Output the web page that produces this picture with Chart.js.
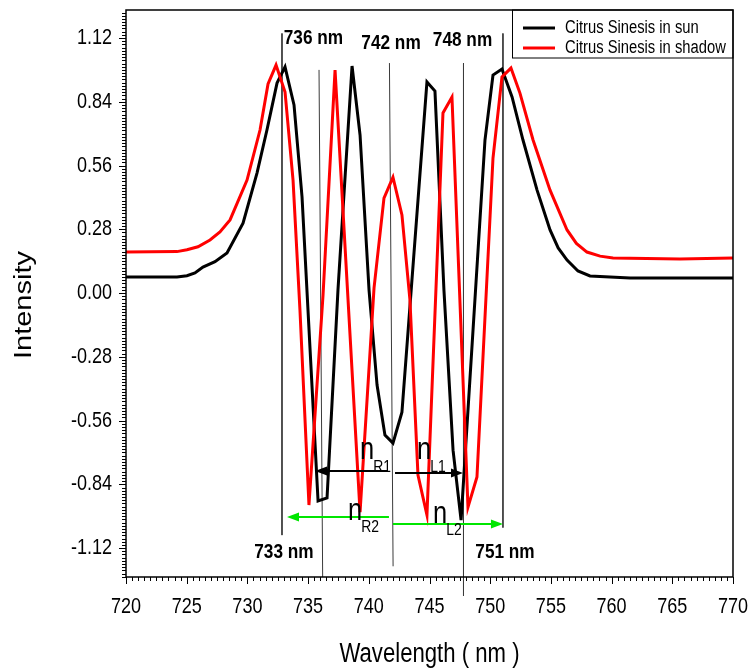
<!DOCTYPE html>
<html>
<head>
<meta charset="utf-8">
<script src="https://cdn.jsdelivr.net/npm/chart.js@4.4.1/dist/chart.umd.min.js"></script>
<style>
  html, body { margin: 0; padding: 0; background: #fff; }
</style>
</head>
<body>
<canvas id="chart" width="751" height="671"></canvas>
<script>
const FONT = "'Liberation Sans', Arial, sans-serif";
const SQUEEZE = 0.82; // the original export is horizontally condensed

// Citrus Sinesis in sun (black)
const sunWavelength = [720, 724.2, 725.02, 725.68, 726.34, 727.33, 728.32, 729.64, 730.79, 731.61, 732.44, 733.1, 733.84, 734.5,
  735.82, 736.56, 737.46, 738.62, 739.28, 740.02, 740.68, 741.33, 741.99, 742.73, 744.79, 745.45,
  746.19, 746.94, 747.6, 749.57, 750.23, 750.97, 751.8, 752.7, 753.86, 754.93, 755.6, 756.33, 757.23, 758.22, 761.52, 770];
const sunIntensity = [0.07, 0.071, 0.076, 0.088, 0.114, 0.138, 0.176, 0.307, 0.527, 0.716, 0.922, 0.993, 0.826, 0.422,
  -0.913, -0.9, 0.013, 0.997, 0.694, 0.013, -0.404, -0.624, -0.659, -0.523, 0.927, 0.887,
  0.013, -0.69, -0.997, 0.672, 0.957, 0.984, 0.861, 0.672, 0.452, 0.277, 0.198, 0.145, 0.097, 0.075, 0.066, 0.066];

// Citrus Sinesis in shadow (red)
const shadowWavelength = [720, 724.2, 725.02, 725.93, 726.92, 727.74, 728.57, 729.97, 731.04, 731.7, 732.36, 733.1, 733.76, 734.33,
  735.07, 736.23, 737.22, 739.28, 740.43, 741.25, 741.99, 742.73, 743.39, 744.05, 744.79, 746.11,
  746.85, 748.17, 748.91, 750.23, 750.97, 751.71, 752.45, 753.53, 754.93, 756.33, 757.1, 757.97, 759.05, 760.12, 765.63, 770];
const shadowIntensity = [0.18, 0.182, 0.19, 0.203, 0.233, 0.268, 0.321, 0.496, 0.716, 0.918, 1.001, 0.883, 0.496, -0.075,
  -0.931, -0.009, 0.979, -0.962, 0.022, 0.417, 0.509, 0.343, -0.031, -0.799, -0.975, 0.791,
  0.861, -0.94, -0.808, 0.593, 0.949, 0.988, 0.878, 0.672, 0.452, 0.277, 0.218, 0.18, 0.162, 0.154, 0.149, 0.154];

// vertical guide lines
const guideTopX = [732.85, 735.9, 741.7, 747.8, 751.05];
const guideBottomX = [732.85, 736.2, 742.0, 747.8, 751.05];
const guideTop = [1.14, 0.98, 1.01, 1.01, 1.14];
const guideBottom = [-1.063, -1.247, -1.2, -1.33, -1.03];

const guideLabels = ['736 nm', '742 nm', '748 nm', '733 nm', '751 nm'];
const guideLabelX = [735.44, 741.83, 747.72, 733.01, 751.22];
const guideLabelY = [1.12, 1.098, 1.111, -1.137, -1.137];

// arrows between guides
const arrowFrom = [741.5, 742.16, 741.66, 741.99];
const arrowTo = [735.57, 747.76, 733.26, 751.05];
const arrowLevel = [-0.782, -0.79, -0.984, -1.014];
const arrowColors = ['#000000', '#000000', '#00e600', '#00e600'];

const orderLabels = ['R1', 'L1', 'R2', 'L2'];
const orderLabelX = [739.28, 743.97, 738.29, 745.29];
const orderLabelY = [-0.711, -0.711, -0.975, -0.988];

const toPoints = (xs, ys) => xs.map((v, i) => ({ x: v, y: ys[i] }));

function narrowText(ctx, str, px, py, font, align, rotate) {
  ctx.save();
  ctx.translate(px, py);
  if (rotate) {
    ctx.rotate(rotate);
    ctx.scale(1, SQUEEZE);
  } else {
    ctx.scale(SQUEEZE, 1);
  }
  ctx.font = font;
  ctx.textAlign = align;
  ctx.textBaseline = 'middle';
  ctx.fillText(str, 0, 0);
  const w = ctx.measureText(str).width * SQUEEZE;
  ctx.restore();
  return w;
}

const guideSets = guideTopX.map((gx, i) => ({
  label: 'guide',
  data: [{ x: gx, y: guideTop[i] }, { x: guideBottomX[i], y: guideBottom[i] }],
  borderColor: '#3a3a3a',
  borderWidth: 1,
  pointRadius: 0,
  clip: false,
  order: 5,
}));

const annotate = {
  id: 'annotate',
  afterDatasetsDraw(chart) {
    const { ctx } = chart;
    const x = chart.scales.x;
    const y = chart.scales.y;
    ctx.save();

    arrowFrom.forEach((start, i) => {
      const x0 = x.getPixelForValue(start);
      const x1 = x.getPixelForValue(arrowTo[i]);
      const py = y.getPixelForValue(arrowLevel[i]);
      const dir = x1 > x0 ? 1 : -1;
      ctx.strokeStyle = arrowColors[i];
      ctx.fillStyle = arrowColors[i];
      ctx.lineWidth = 2;
      ctx.beginPath();
      ctx.moveTo(x0, py);
      ctx.lineTo(x1 - dir * 8, py);
      ctx.stroke();
      ctx.beginPath();
      ctx.moveTo(x1, py);
      ctx.lineTo(x1 - dir * 12, py - 4.5);
      ctx.lineTo(x1 - dir * 12, py + 4.5);
      ctx.closePath();
      ctx.fill();
    });

    ctx.fillStyle = '#000';
    guideLabels.forEach((t, i) => {
      narrowText(ctx, t, x.getPixelForValue(guideLabelX[i]), y.getPixelForValue(guideLabelY[i]),
        'bold 21px ' + FONT, 'center');
    });

    orderLabels.forEach((sub, i) => {
      const px = x.getPixelForValue(orderLabelX[i]);
      const py = y.getPixelForValue(orderLabelY[i]);
      const w = narrowText(ctx, 'n', px, py - 4, '31px ' + FONT, 'left');
      narrowText(ctx, sub, px + w - 1, py + 12, '17px ' + FONT, 'left');
    });
    ctx.restore();
  },
  afterDraw(chart) {
    const { ctx, chartArea } = chart;
    const { left, right, top, bottom } = chartArea;
    const x = chart.scales.x;
    const y = chart.scales.y;
    ctx.save();
    ctx.strokeStyle = '#000';
    ctx.fillStyle = '#000';
    ctx.lineWidth = 1.5;
    ctx.strokeRect(left, top, right - left, bottom - top);

    // minor and major tick marks
    ctx.lineWidth = 1;
    ctx.beginPath();
    for (let k = 0; k <= 100; k++) {
      const px = Math.round(x.getPixelForValue(720 + k * 0.5)) + 0.5;
      const len = k % 10 === 0 ? 7 : 4;
      ctx.moveTo(px, bottom);
      ctx.lineTo(px, bottom + len);
    }
    for (let k = -89; k <= 89; k++) {
      const v = k * 0.014;
      if (v < y.min || v > y.max) continue;
      const py = Math.round(y.getPixelForValue(v)) + 0.5;
      const len = k % 20 === 0 ? 7 : 4;
      ctx.moveTo(left - len, py);
      ctx.lineTo(left, py);
    }
    ctx.stroke();

    // tick labels from the scales' own ticks
    x.ticks.forEach((t) => {
      narrowText(ctx, String(t.value), x.getPixelForValue(t.value), bottom + 30, '22px ' + FONT, 'center');
    });
    y.ticks.forEach((t) => {
      narrowText(ctx, t.value.toFixed(2), left - 14, y.getPixelForValue(t.value), '22px ' + FONT, 'right');
    });

    // axis titles
    narrowText(ctx, 'Wavelength ( nm )', (left + right) / 2, 655, '27px ' + FONT, 'center');
    narrowText(ctx, 'Intensity', 24, 305, '29px ' + FONT, 'center', -Math.PI / 2);

    // legend box
    ctx.lineWidth = 1;
    ctx.strokeRect(512.5, top, right - 512.5, 48);
    ctx.lineWidth = 3;
    ctx.strokeStyle = '#000';
    ctx.beginPath(); ctx.moveTo(523, 28); ctx.lineTo(555, 28); ctx.stroke();
    ctx.strokeStyle = '#ff0000';
    ctx.beginPath(); ctx.moveTo(523, 48); ctx.lineTo(555, 48); ctx.stroke();
    narrowText(ctx, 'Citrus Sinesis in sun', 565, 28, '18px ' + FONT, 'left');
    narrowText(ctx, 'Citrus Sinesis in shadow', 565, 48, '18px ' + FONT, 'left');
    ctx.restore();
  },
};

new Chart(document.getElementById('chart'), {
  type: 'line',
  data: {
    datasets: [
      {
        label: 'Citrus Sinesis in sun',
        data: toPoints(sunWavelength, sunIntensity),
        borderColor: '#000000',
        borderWidth: 3,
        borderJoinStyle: 'miter',
        pointRadius: 0,
        tension: 0,
        order: 2,
      },
      {
        label: 'Citrus Sinesis in shadow',
        data: toPoints(shadowWavelength, shadowIntensity),
        borderColor: '#ff0000',
        borderWidth: 3,
        borderJoinStyle: 'miter',
        pointRadius: 0,
        tension: 0,
        order: 1,
      },
      ...guideSets,
    ],
  },
  options: {
    responsive: false,
    animation: false,
    devicePixelRatio: 1,
    layout: { padding: { top: 10, right: 18, left: 0, bottom: 0 } },
    plugins: {
      legend: { display: false },
      tooltip: { enabled: false },
    },
    scales: {
      x: {
        type: 'linear',
        min: 720,
        max: 770,
        afterFit: (scale) => { scale.height = 94; },
        grid: { display: false, drawTicks: false },
        border: { display: false },
        ticks: { stepSize: 5, display: false },
      },
      y: {
        type: 'linear',
        min: -1.247,
        max: 1.243,
        afterFit: (scale) => { scale.width = 126; },
        grid: { display: false, drawTicks: false },
        border: { display: false },
        ticks: { stepSize: 0.28, includeBounds: false, display: false },
      },
    },
  },
  plugins: [annotate],
});
</script>
</body>
</html>
